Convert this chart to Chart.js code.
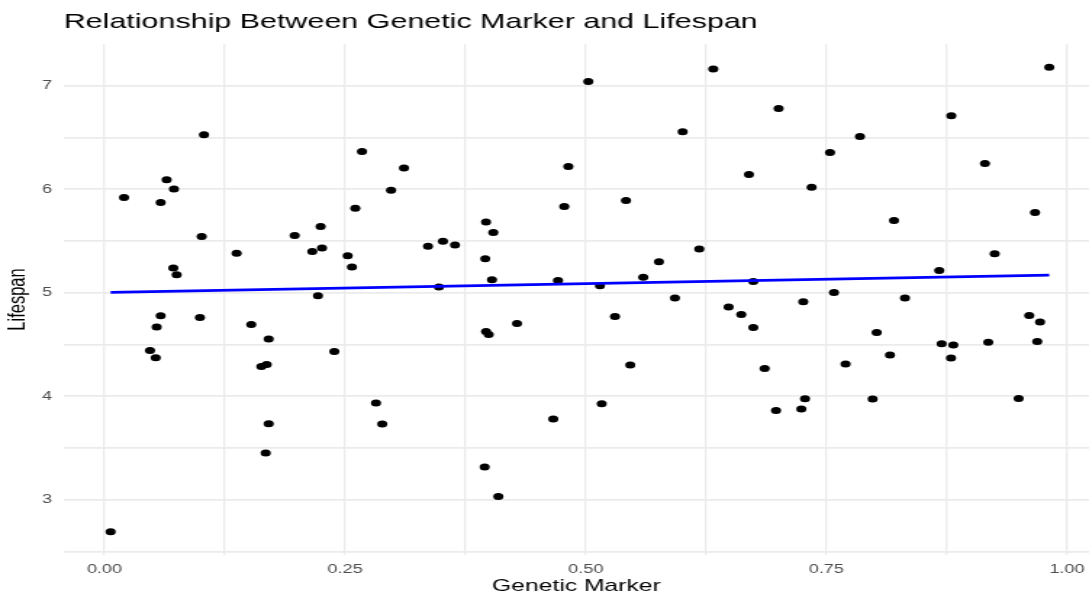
<!DOCTYPE html>
<html>
<head>
<meta charset="utf-8">
<script src="https://cdn.jsdelivr.net/npm/chart.js@4"></script>
<style>
  html, body { margin: 0; padding: 0; background: #fff; overflow: hidden; }
  /* the plot is laid out on a narrower canvas and widened to the page */
  #frame { position: absolute; left: 0; top: 0; width: 751px; height: 597px;
           transform: scaleX(1.45007); transform-origin: 0 0; }
</style>
</head>
<body>
<div id="frame"><canvas id="c"></canvas></div>
<script>
// Genetic marker (x) and lifespan (y) per observation
const markerX = [
  0.0064, 0.0203, 0.0473, 0.0532, 0.0542, 0.0584, 0.0584, 0.0646, 0.0715, 0.0722,
  0.0750, 0.0992, 0.1010, 0.1034, 0.1373, 0.1525, 0.1630, 0.1675, 0.1685, 0.1706,
  0.1706, 0.1976, 0.2159, 0.2218, 0.2246, 0.2260, 0.2388, 0.2527, 0.2571, 0.2606,
  0.2675, 0.2821, 0.2886, 0.2977, 0.3112, 0.3361, 0.3475, 0.3517, 0.3642, 0.3950,
  0.3956, 0.3964, 0.3964, 0.3992, 0.4026, 0.4040, 0.4092, 0.4286, 0.4663, 0.4712,
  0.4777, 0.4819, 0.5027, 0.5148, 0.5166, 0.5304, 0.5418, 0.5463, 0.5598, 0.5761,
  0.5927, 0.6007, 0.6180, 0.6325, 0.6485, 0.6616, 0.6696, 0.6741, 0.6741, 0.6859,
  0.6977, 0.7004, 0.7240, 0.7260, 0.7278, 0.7347, 0.7538, 0.7579, 0.7700, 0.7849,
  0.7981, 0.8023, 0.8161, 0.8203, 0.8317, 0.8673, 0.8698, 0.8795, 0.8798, 0.8819,
  0.9148, 0.9182, 0.9249, 0.9498, 0.9608, 0.9668, 0.9691, 0.9720, 0.9816
];
const lifespanY = [
  2.691, 5.921, 4.443, 4.372, 4.668, 4.778, 5.873, 6.092, 5.239, 6.002,
  5.174, 4.761, 5.544, 6.527, 5.383, 4.694, 4.288, 3.451, 4.307, 4.553,
  3.734, 5.554, 5.399, 4.971, 5.641, 5.432, 4.433, 5.357, 5.248, 5.818,
  6.365, 3.935, 3.731, 5.992, 6.205, 5.450, 5.055, 5.498, 5.461, 3.316,
  5.329, 5.683, 4.626, 4.597, 5.126, 5.583, 3.032, 4.703, 3.780, 5.119,
  5.834, 6.220, 7.042, 5.068, 3.928, 4.771, 5.892, 4.301, 5.151, 5.300,
  4.950, 6.556, 5.422, 7.164, 4.862, 4.790, 6.143, 5.109, 4.665, 4.269,
  3.863, 6.781, 3.876, 4.913, 3.976, 6.021, 6.356, 5.003, 4.311, 6.510,
  3.973, 4.617, 4.398, 5.699, 4.949, 5.216, 4.507, 4.369, 6.710, 4.495,
  6.249, 4.523, 5.377, 3.979, 4.781, 5.776, 4.530, 4.717, 7.180
];
// Fitted linear trend, at the smallest and largest marker values
const fitX = [0.0064, 0.9816];
const fitY = [5.003, 5.171];
// Axis tick labels
const xTickLabels = ['0.00', '0.25', '0.50', '0.75', '1.00'];
const yTickLabels = ['3', '4', '5', '6', '7'];

const FONT = '"Liberation Sans", Arial, Helvetica, sans-serif';
const GRID = '#ebebeb';

const points = markerX.map((x, i) => ({ x: x, y: lifespanY[i] }));
const trend = fitX.map((x, i) => ({ x: x, y: fitY[i] }));

new Chart(document.getElementById('c'), {
  type: 'scatter',
  data: {
    datasets: [
      {
        type: 'line',
        data: trend,
        borderColor: '#0000ff',
        borderWidth: 2.7,
        pointRadius: 0,
        fill: false,
        order: 0
      },
      {
        data: points,
        backgroundColor: '#000000',
        borderWidth: 0,
        pointRadius: 3.5,
        order: 1
      }
    ]
  },
  options: {
    responsive: true,
    maintainAspectRatio: false,
    animation: false,
    layout: { padding: 0, autoPadding: false },
    plugins: {
      legend: { display: false },
      tooltip: { enabled: false },
      title: {
        display: true,
        text: 'Relationship Between Genetic Marker and Lifespan',
        align: 'start',
        fullSize: false,
        color: '#000000',
        font: { family: FONT, size: 21, weight: 'normal', lineHeight: 1.2 },
        padding: { top: 10, bottom: 8.8 }
      }
    },
    scales: {
      x: {
        type: 'linear',
        min: -0.0424,
        max: 1.0229,
        border: { display: false },
        // invisible tick marks keep the labels clear of the panel
        grid: { color: GRID, lineWidth: 1.3, drawTicks: true, tickLength: 7, tickColor: 'rgba(0,0,0,0)' },
        ticks: {
          stepSize: 0.125,
          includeBounds: false,
          autoSkip: false,
          maxRotation: 0,
          padding: 0,
          color: '#4d4d4d',
          font: { family: FONT, size: 12.5 },
          callback: (v) => {
            const k = Math.round(v * 4);
            return Math.abs(v * 4 - k) < 1e-6 ? xTickLabels[k] : '';
          }
        },
        title: {
          display: true,
          text: 'Genetic Marker',
          color: '#000000',
          font: { family: FONT, size: 17 },
          padding: { top: 0, bottom: 0 }
        },
        afterFit: (s) => { s.height = 42; }
      },
      y: {
        type: 'linear',
        min: 2.4655,
        max: 7.4045,
        border: { display: false },
        grid: { color: GRID, lineWidth: 1.8, drawTicks: false },
        ticks: {
          stepSize: 0.5,
          includeBounds: false,
          autoSkip: false,
          padding: 8,
          color: '#4d4d4d',
          font: { family: FONT, size: 12.5 },
          callback: (v) => {
            const k = Math.round(v);
            return Math.abs(v - k) < 1e-6 ? yTickLabels[k - 3] : '';
          }
        },
        title: {
          display: true,
          text: 'Lifespan',
          color: '#000000',
          font: { family: FONT, size: 16.5 },
          padding: { top: 2.5, bottom: 0 }
        },
        afterFit: (s) => { s.width = 43.9; }
      }
    }
  }
});
</script>
</body>
</html>
